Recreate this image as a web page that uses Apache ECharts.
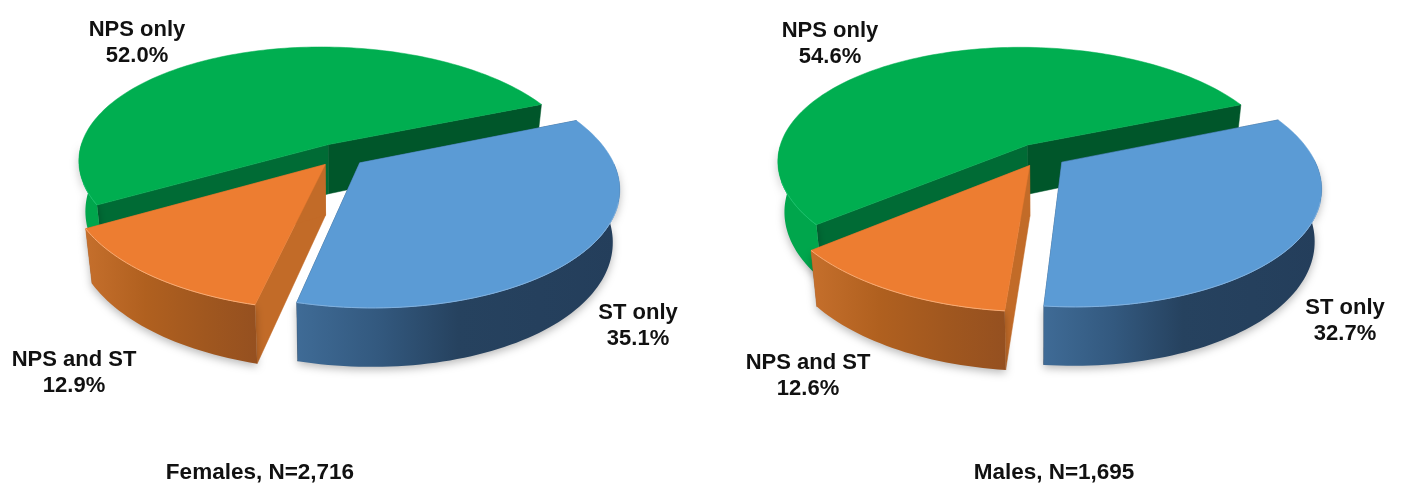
<!DOCTYPE html>
<html>
<head>
<meta charset="utf-8">
<style>
  html, body { margin: 0; padding: 0; background: #fff; }
  #chart { width: 1409px; height: 483px; }
</style>
<script src="https://cdn.jsdelivr.net/npm/echarts@6/dist/echarts.min.js"></script>
</head>
<body>
<div id="chart"></div>
<script>
  const categories = ['NPS only', 'ST only', 'NPS and ST'];
  const femaleValues = [52.0, 35.1, 12.9];
  const maleValues = [54.6, 32.7, 12.6];
  const panelTitles = ['Females, N=2,716', 'Males, N=1,695'];

  // where the green/blue seam sits, clockwise from 3 o'clock
  const seamAngle = 338;
  const explode = 0.1;

  // fake 3d projection
  const radius = 251;
  const tilt = 0.468;
  const persp = 0.17;
  const shear = 9;
  const depth = 50;
  const depthGrow = 0.24;
  const floorScale = 0.975;

  const panels = [
    { values: femaleValues, cx: 340, cy: 155, titleX: 260,
      labels: [[137, 43], [638, 326], [74, 373]] },
    { values: maleValues, cx: 1041, cy: 155, titleX: 1054,
      labels: [[830, 44], [1345, 321], [808, 376]] }
  ];

  const sliceStyles = [
    { top: '#00ae50', startWall: '#006b35', endWall: '#00562a',
      outer: ['#00a64c', '#00a64c'], stops: [0, 1], edge: '#18c06a' },
    { top: '#5b9bd5', startWall: '#2a4a6c', endWall: '#2a4a6c',
      outer: ['#3f6b96', '#33597f', '#26425f', '#243e5b'], stops: [0, 0.25, 0.5, 1], edge: '#80b0de' },
    { top: '#ed7d31', startWall: '#c26b28', endWall: '#c26b28',
      outer: ['#c56f2c', '#b0601f', '#a0571f', '#955020'], stops: [0, 0.35, 0.7, 1], edge: '#f7ab74' }
  ];

  function gradient(style) {
    return {
      type: 'linear', x: 0, y: 0, x2: 1, y2: 0,
      colorStops: style.outer.map((c, i) => ({ offset: style.stops[i], color: c }))
    };
  }

  function makeRender(panel) {
    const total = panel.values.reduce((a, b) => a + b, 0);
    const toDeg = 360 / total;
    const firstStart = seamAngle - panel.values[0] * toDeg;

    function project(x, y, floor) {
      const s = 1 / (1 - persp * y);
      let sx = radius * x * s + shear * y;
      let sy = radius * tilt * y * s;
      if (floor) {
        sx *= floorScale;
        sy = sy * floorScale + depth * (1 + depthGrow * y);
      }
      return [panel.cx + sx, panel.cy + sy];
    }

    return function (params, api) {
      const i = params.dataIndex;
      const style = sliceStyles[i];
      let before = 0;
      for (let k = 0; k < i; k++) before += panel.values[k];
      const a0 = firstStart + before * toDeg;
      const a1 = a0 + api.value(0) * toDeg;
      const mid = (a0 + a1) / 2 * Math.PI / 180;
      const ox = explode * Math.cos(mid);
      const oy = explode * Math.sin(mid);

      const rim = [];
      const n = Math.ceil((a1 - a0) / 1.5);
      for (let k = 0; k <= n; k++) {
        const a = (a0 + (a1 - a0) * k / n) * Math.PI / 180;
        rim.push([ox + Math.cos(a), oy + Math.sin(a), Math.sin(a)]);
      }

      const apexTop = project(ox, oy, false);
      const apexBot = project(ox, oy, true);
      const first = rim[0];
      const last = rim[rim.length - 1];
      const children = [];

      // radial faces first, top face paints over the hidden ones
      [[first, style.startWall], [last, style.endWall]].forEach(([p, color]) => {
        children.push({
          type: 'polygon',
          shape: { points: [apexTop, project(p[0], p[1], false), project(p[0], p[1], true), apexBot] },
          style: { fill: color, stroke: color, lineWidth: 0.5 }
        });
      });

      // outer wall, only the part turned to the viewer
      const front = rim.filter(p => p[2] > -0.02);
      if (front.length > 1) {
        const upper = front.map(p => project(p[0], p[1], false));
        const lower = front.map(p => project(p[0], p[1], true)).reverse();
        children.push({
          type: 'polygon',
          shape: { points: upper.concat(lower) },
          style: {
            fill: gradient(style),
            shadowBlur: 9, shadowColor: 'rgba(0,0,0,0.28)', shadowOffsetY: 3
          }
        });
      }

      children.push({
        type: 'polygon',
        shape: { points: [apexTop].concat(rim.map(p => project(p[0], p[1], false))) },
        style: { fill: style.top, stroke: style.top, lineWidth: 0.5 }
      });

      const bevel = rim.filter(p => p[2] > 0.3);
      if (bevel.length > 1) {
        children.push({
          type: 'polyline',
          shape: { points: bevel.map(p => project(p[0], p[1], false)) },
          style: { fill: null, stroke: style.edge, lineWidth: 1 }
        });
      }

      return { type: 'group', children: children };
    };
  }

  const chart = echarts.init(document.getElementById('chart'));

  const labelFont = 'bold 22px "Liberation Sans", Arial, sans-serif';
  const labelTexts = [];
  panels.forEach(panel => {
    panel.values.forEach((v, i) => {
      labelTexts.push({
        type: 'text',
        x: panel.labels[i][0],
        y: panel.labels[i][1],
        z: 10,
        style: {
          text: categories[i] + '\n' + v.toFixed(1) + '%',
          font: labelFont,
          fill: '#111',
          align: 'center',
          verticalAlign: 'middle',
          lineHeight: 26
        }
      });
    });
  });

  chart.setOption({
    animation: false,
    backgroundColor: '#fff',
    title: panels.map((panel, i) => ({
      text: panelTitles[i],
      left: panel.titleX,
      top: 461,
      textAlign: 'center',
      padding: 0,
      textStyle: {
        fontFamily: '"Liberation Sans", Arial, sans-serif',
        fontWeight: 'bold',
        fontSize: 22.5,
        color: '#111'
      }
    })),
    graphic: labelTexts,
    series: panels.map(panel => ({
      type: 'custom',
      coordinateSystem: 'none',
      silent: true,
      renderItem: makeRender(panel),
      data: panel.values.map((v, i) => ({ name: categories[i], value: [v] }))
    }))
  });
</script>
</body>
</html>
